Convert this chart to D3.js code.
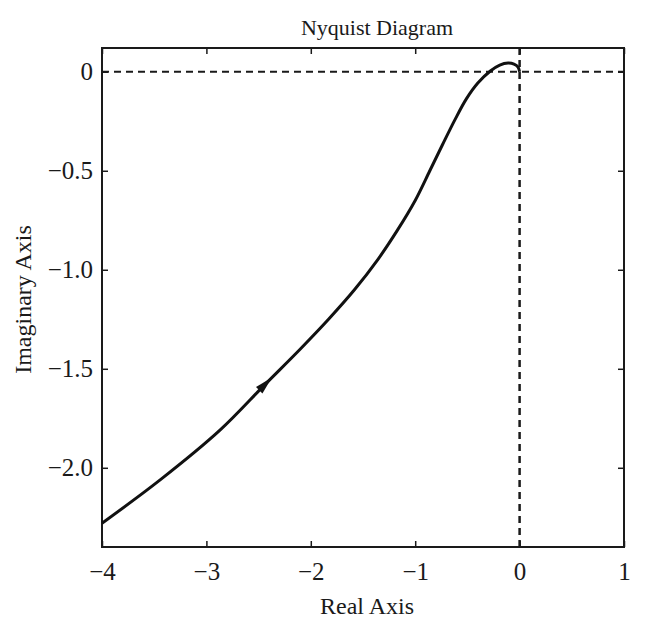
<!DOCTYPE html>
<html>
<head>
<meta charset="utf-8">
<script src="https://cdn.jsdelivr.net/npm/d3@7"></script>
<style>
  body { margin: 0; background: #fff; }
  text { font-family: "Liberation Serif", "DejaVu Serif", serif; fill: #1a1a1a; }
</style>
</head>
<body>
<script>
// curve (real, imaginary)
const realPart = [-4, -3.44, -2.87, -2.44, -2.10, -1.83, -1.58, -1.36, -1.17, -1.00, -0.86, -0.74, -0.62, -0.51, -0.40, -0.28, -0.19, -0.11, -0.054, -0.015, 0];
const imagPart = [-2.28, -2.06, -1.81, -1.58, -1.40, -1.25, -1.10, -0.95, -0.80, -0.65, -0.50, -0.37, -0.243, -0.137, -0.057, 0.004, 0.034, 0.044, 0.039, 0.024, 0];

const xTicks = [-4, -3, -2, -1, 0, 1];
const xTickLabels = ["−4", "−3", "−2", "−1", "0", "1"];
const yTicks = [0, -0.5, -1.0, -1.5, -2.0];
const yTickLabels = ["0", "−0.5", "−1.0", "−1.5", "−2.0"];

const arrowIndex = 3;

const width = 650;
const height = 640;
const plotLeft = 102, plotRight = 624, plotTop = 48, plotBottom = 547;

const svg = d3.select("body")
    .append("svg")
    .attr("width", width)
    .attr("height", height)

const x = d3.scaleLinear()
    .domain([-4, 1])
    .range([plotLeft, plotRight]);

const y = d3.scaleLinear()
    .domain([-2.4, 0.12])
    .range([plotBottom, plotTop]);

// ticks on all four sides, pointing inward
svg.append("g")
    .attr("transform", `translate(0, ${plotBottom})`)
    .call(d3.axisBottom(x).tickValues(xTicks).tickSize(-6).tickPadding(15)
        .tickFormat((d, i) => xTickLabels[i]))
    .call(g => g.select(".domain").remove())
    .call(g => g.selectAll("line").attr("stroke", "#1a1a1a").attr("stroke-width", 1.5))
    .call(g => g.selectAll("text").attr("font-size", 25).attr("font-family", "Liberation Serif"));

svg.append("g")
    .attr("transform", `translate(0, ${plotTop})`)
    .call(d3.axisTop(x).tickValues(xTicks).tickSize(-6).tickFormat(""))
    .call(g => g.select(".domain").remove())
    .call(g => g.selectAll("line").attr("stroke", "#1a1a1a").attr("stroke-width", 1.5));

svg.append("g")
    .attr("transform", `translate(${plotLeft}, 0)`)
    .call(d3.axisLeft(y).tickValues(yTicks).tickSize(-6).tickPadding(9)
        .tickFormat((d, i) => yTickLabels[i]))
    .call(g => g.select(".domain").remove())
    .call(g => g.selectAll("line").attr("stroke", "#1a1a1a").attr("stroke-width", 1.5))
    .call(g => g.selectAll("text").attr("font-size", 25).attr("font-family", "Liberation Serif"));

svg.append("g")
    .attr("transform", `translate(${plotRight}, 0)`)
    .call(d3.axisRight(y).tickValues(yTicks).tickSize(-6).tickFormat(""))
    .call(g => g.select(".domain").remove())
    .call(g => g.selectAll("line").attr("stroke", "#1a1a1a").attr("stroke-width", 1.5));

// dashed zero lines
svg.append("line")
    .attr("x1", plotLeft).attr("x2", plotRight)
    .attr("y1", y(0)).attr("y2", y(0))
    .attr("stroke", "#1a1a1a").attr("stroke-width", 2)
    .attr("stroke-dasharray", "7,5");

svg.append("line")
    .attr("x1", x(0)).attr("x2", x(0))
    .attr("y1", plotTop).attr("y2", plotBottom)
    .attr("stroke", "#1a1a1a").attr("stroke-width", 2.5)
    .attr("stroke-dasharray", "7,5");

// frame
svg.append("rect")
    .attr("x", plotLeft).attr("y", plotTop)
    .attr("width", plotRight - plotLeft).attr("height", plotBottom - plotTop)
    .attr("fill", "none")
    .attr("stroke", "#1a1a1a")
    .attr("stroke-width", 2);

const pts = realPart.map((d, i) => [d, imagPart[i]]);

const line = d3.line()
    .x(d => x(d[0]))
    .y(d => y(d[1]))
    .curve(d3.curveCatmullRom.alpha(0.5));

svg.append("path")
    .datum(pts)
    .attr("d", line)
    .attr("fill", "none")
    .attr("stroke", "#111")
    .attr("stroke-width", 3);

// direction arrow
const p0 = pts[arrowIndex], p1 = pts[arrowIndex + 1];
const ax = x(p0[0]), ay = y(p0[1]);
const ang = Math.atan2(y(p1[1]) - ay, x(p1[0]) - ax) * 180 / Math.PI;
svg.append("path")
    .attr("d", "M10,0 L-8,-4.5 L-8,4.5 Z")
    .attr("transform", `translate(${ax}, ${ay}) rotate(${ang})`)
    .attr("fill", "#111");

svg.append("text")
    .attr("x", (plotLeft + plotRight) / 2 + 14)
    .attr("y", 35)
    .attr("text-anchor", "middle")
    .attr("font-size", 22)
    .text("Nyquist Diagram");

svg.append("text")
    .attr("x", (plotLeft + plotRight) / 2 + 4)
    .attr("y", 614)
    .attr("text-anchor", "middle")
    .attr("font-size", 24)
    .text("Real Axis");

svg.append("text")
    .attr("transform", `translate(31, ${(plotTop + plotBottom) / 2 + 2}) rotate(-90)`)
    .attr("text-anchor", "middle")
    .attr("font-size", 24)
    .text("Imaginary Axis");
</script>
</body>
</html>
